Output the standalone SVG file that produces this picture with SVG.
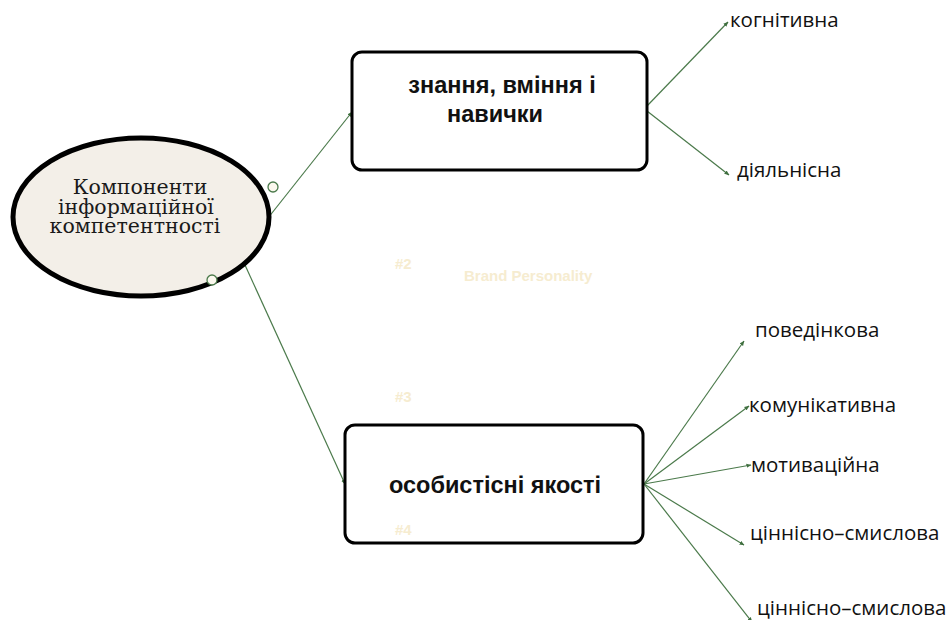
<svg xmlns="http://www.w3.org/2000/svg" width="952" height="620" viewBox="0 0 952 620">
  <defs>
    <marker id="tip" viewBox="0 0 6 6" refX="5.5" refY="3" markerWidth="5" markerHeight="5" orient="auto" markerUnits="userSpaceOnUse">
      <path d="M0,0.5 L6,3 L0,5.5 Z" fill="#3f6f3f"/>
    </marker>
  </defs>
  <style>
    .link { stroke: #4b7a4b; stroke-width: 1.2; fill: none; marker-end: url(#tip); }
    .box { fill: #ffffff; stroke: #000000; stroke-width: 3; }
    .hub { fill: #f3efe8; stroke: #000000; stroke-width: 5; }
    .hubtext { font-family: "DejaVu Serif", "Liberation Serif", serif; font-size: 20.5px; fill: #1a1a1a; text-anchor: middle; }
    .boxtext { font-family: "Liberation Sans", Arial, sans-serif; font-weight: bold; font-size: 23.5px; fill: #111111; text-anchor: middle; }
    .leaf { font-family: "Open Sans", "Noto Sans", sans-serif; font-size: 20.5px; fill: #111111; }
    .ghost { font-family: "Liberation Sans", Arial, sans-serif; font-weight: bold; font-size: 15px; fill: #f6ecd0; }
    .knob { fill: #fbf8ee; stroke: #4b7a4b; stroke-width: 1.3; }
  </style>

  <rect width="952" height="620" fill="#ffffff"/>

  <!-- connectors -->
  <g id="connectors">
    <line class="link" x1="268" y1="218" x2="352" y2="112"/>
    <line class="link" x1="245" y1="265" x2="345" y2="484"/>
    <line class="link" x1="647" y1="106" x2="728" y2="22"/>
    <line class="link" x1="647" y1="111" x2="729" y2="175"/>
    <line class="link" x1="644" y1="484" x2="744" y2="341"/>
    <line class="link" x1="644" y1="484" x2="749" y2="406"/>
    <line class="link" x1="644" y1="484" x2="751" y2="465"/>
    <line class="link" x1="644" y1="484" x2="744" y2="545"/>
    <line class="link" x1="644" y1="484" x2="752" y2="622"/>
  </g>

  <!-- central ellipse -->
  <g id="hub">
    <ellipse class="hub" cx="141" cy="217" rx="128" ry="79"/>
    <text class="hubtext" x="140" y="194">Компоненти</text>
    <text class="hubtext" x="136" y="213.5">інформаційної</text>
    <text class="hubtext" x="135" y="233">компетентності</text>
    <circle class="knob" cx="273" cy="187" r="5"/>
    <circle class="knob" cx="212" cy="280" r="5"/>
  </g>

  <!-- knowledge box -->
  <g id="knowledge">
    <rect class="box" x="352" y="52" width="295" height="118" rx="10"/>
    <text class="boxtext" x="502" y="93">знання, вміння і</text>
    <text class="boxtext" x="495" y="122">навички</text>
  </g>

  <!-- personal qualities box -->
  <g id="qualities">
    <rect class="box" x="345" y="425" width="298" height="118" rx="10"/>
    <text class="boxtext" x="495" y="493">особистісні якості</text>
  </g>

  <!-- faint background labels, drawn over the boxes -->
  <g id="background-labels">
    <text class="ghost" x="395" y="269">#2</text>
    <text class="ghost" x="464" y="281">Brand Personality</text>
    <text class="ghost" x="395" y="402">#3</text>
    <text class="ghost" x="395" y="535">#4</text>
  </g>

  <!-- leaf labels -->
  <g id="leaf-cognitive"><text class="leaf" x="730" y="27">когнітивна</text></g>
  <g id="leaf-activity"><text class="leaf" x="737" y="177">діяльнісна</text></g>
  <g id="leaf-behavioral"><text class="leaf" x="755" y="337">поведінкова</text></g>
  <g id="leaf-communicative"><text class="leaf" x="749" y="412">комунікативна</text></g>
  <g id="leaf-motivational"><text class="leaf" x="751" y="472">мотиваційна</text></g>
  <g id="leaf-value-1"><text class="leaf" x="750" y="540">ціннісно–смислова</text></g>
  <g id="leaf-value-2"><text class="leaf" x="757" y="615">ціннісно–смислова</text></g>
</svg>
